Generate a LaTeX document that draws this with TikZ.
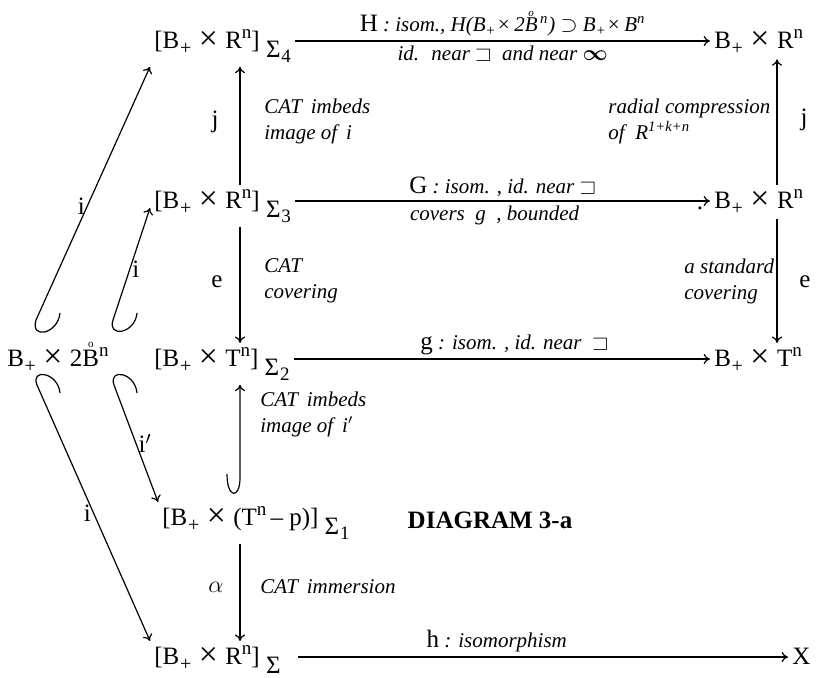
\documentclass[tikz,border=0pt]{standalone}
\usepackage{amsmath,amssymb}
\usepackage{fontspec}
\setmainfont{Liberation Serif}
\usetikzlibrary{arrows.meta}

\newcommand{\bp}{B\kern0.3pt\raisebox{-0.6ex}{\fontsize{10}{10}\selectfont +}}
\newcommand{\cross}{\hspace{0.3em}\raisebox{-0.15ex}{\scalebox{1.35}{×}}\hspace{0.3em}}
\newcommand{\hi}[1]{\raisebox{0.85ex}{\fontsize{9.5}{10}\selectfont #1}}
\newcommand{\sig}[1]{\hspace{0.25em}\raisebox{-0.8ex}{Σ\kern0.4pt\raisebox{-0.45ex}{\fontsize{9.5}{10}\selectfont #1}}}
\newcommand{\rmlet}[1]{{\fontsize{12.5}{14}\selectfont\upshape #1}}
\newcommand{\ringb}{\ooalign{B\cr\hidewidth\raisebox{0.74em}{\fontsize{5.5}{6}\selectfont o}\hidewidth\cr}}

\begin{document}
\begin{tikzpicture}[x=0.5pt, y=-0.5pt,
    obj/.style = {inner sep=2pt, font=\fontsize{12.5}{15}\selectfont},
    lab/.style = {inner sep=2pt, font=\fontsize{10.5}{13}\selectfont\itshape, align=left},
    sym/.style = {inner sep=1pt, font=\fontsize{12.5}{15}\selectfont},
    arr/.style = {-{To[length=3.2pt,width=5pt]}, line width=0.6pt}
]
\useasboundingbox (0,0) rectangle (828,677);
% objects
\node[obj, anchor=base west] (s4) at (150,48)  {[\bp\cross R\hi{n}]\sig{4}};
\node[obj, anchor=base west] (r4) at (710,48)  {\bp\cross R\hi{n}};
\node[obj, anchor=base west] (s3) at (150,208) {[\bp\cross R\hi{n}]\sig{3}};
\node[obj, anchor=base west] (r3) at (710,208) {\bp\cross R\hi{n}};
\node[obj, anchor=base west] (s2) at (150,366) {[\bp\cross T\hi{n}]\sig{2}};
\node[obj, anchor=base west] (r2) at (710,366) {\bp\cross T\hi{n}};
\node[obj, anchor=base west] (b0) at (3,366)   {\bp\cross 2\ringb\hi{n}};
\node[obj, anchor=base west] (s1) at (158,525) {[\bp\cross (T\hi{n}\,– p)]\sig{1}};
\node[obj, anchor=base west] (s0) at (150,664) {[\bp\cross R\hi{n}]\sig{}};
\node[obj, anchor=base west] (xx) at (788,664) {X};
\node[obj, anchor=base, font=\fontsize{12.5}{15}\selectfont\bfseries] (title) at (490,528) {DIAGRAM 3-a};
\node[obj] (dt) at (700,208) {.};
\coordinate (cl) at (240,0);
\coordinate (cr) at (777,0);

% vertical maps
\draw[arr] (s3.north -| cl) -- (s4.south -| cl);
\draw[arr] (s3.south -| cl) -- (s2.north -| cl);
\draw[arr] (r3.north -| cr) -- (r4.south -| cr);
\draw[arr] (r3.south -| cr) -- (r2.north -| cr);
\draw[arr] (227,474) .. controls (227,499) and (240,499) .. (240,478) -- (s2.south -| cl);
\draw[arr] (s1.south -| cl) -- (s0.north -| cl);
\node[sym] (jl) at (215,122) {j};
\node[lab, anchor=west] (jlab) at (260,121) {CAT \,imbeds\\image of \,i};
\node[lab, anchor=west] (rlab) at (604,121) {radial compression\\of \ R\textsuperscript{1+k+n}};
\node[sym] (jr) at (804,120) {j};
\node[sym] (el) at (217,282) {e};
\node[lab, anchor=west] (elab) at (260,281) {CAT\\covering};
\node[lab, anchor=west] (slab) at (680,281) {a standard\\covering};
\node[sym] (er) at (805,282) {e};
\node[lab, anchor=west] (ilab) at (256,414) {CAT \,imbeds\\image of \,i$'$};
\node[sym] (al) at (216,587) {$\alpha$};
\node[lab, anchor=west] (alab) at (256,587) {CAT \,immersion};

% horizontal maps
\draw[arr] ([yshift=3.5pt]s4.base east) -- ([yshift=3.5pt]r4.base west)
    node[midway, above, lab] {\rmlet{H} : isom., H(B\textsubscript{+}×\,2\ringb\textsuperscript{\,n}) $\supset$ B\textsubscript{+}×\,B\textsuperscript{n}}
    node[midway, below, lab] {id. \ near $\sqsupset$ \ and near $\boldsymbol{\infty}$};
\draw[arr] ([yshift=3.5pt]s3.base east) -- ([yshift=3.5pt]r3.base west)
    node[midway, above, lab] {\rmlet{G} : isom. , id. near $\sqsupset$}
    node[midway, below, lab, xshift=-4pt] {covers \ g \ , bounded};
\draw[arr] ([yshift=3.5pt]s2.base east) -- ([yshift=3.5pt]r2.base west)
    node[pos=0.53, above, lab] {\rmlet{g} : isom. , id. near \ $\sqsupset$};
\draw[arr, shorten <=6pt] ([yshift=3.5pt]s0.base east) -- ([yshift=3.5pt]xx.base west)
    node[pos=0.42, above, lab] {\rmlet{h} : isomorphism};

% hooked diagonals
\draw[arr] (60,313) .. controls (58,334) and (30,340) .. (36,320)
    -- node[pos=0.45, left, sym] {i} (s4.south west);
\draw[arr] (137,313) .. controls (135,334) and (107,338) .. (113,320)
    -- node[pos=0.45, right, sym] {i} (s3.base west);
\draw[arr] (60,393) .. controls (58,372) and (30,368) .. (37,385)
    -- node[pos=0.5, left, sym] {i} (s0.north west);
\draw[arr] (137,393) .. controls (135,372) and (108,368) .. (114,385)
    -- node[pos=0.5, right, sym] {i$'$} (s1.north west);
\end{tikzpicture}
\end{document}
